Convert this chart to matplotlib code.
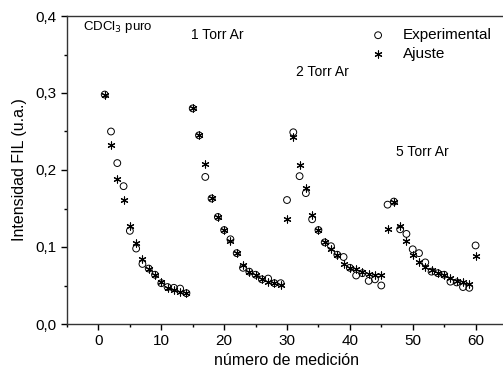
import matplotlib
matplotlib.use("Agg")
import matplotlib.pyplot as plt
from matplotlib.ticker import MultipleLocator, FuncFormatter

plt.rcParams['font.family'] = ['Liberation Sans', 'DejaVu Sans']

medicion = list(range(1, 61))
experimental = [
    0.298, 0.250, 0.209, 0.179, 0.121, 0.098, 0.078, 0.072, 0.064, 0.053,
    0.048, 0.047, 0.046, 0.040,
    0.280, 0.245, 0.191, 0.163, 0.139, 0.122, 0.110, 0.092, 0.073, 0.068,
    0.064, 0.058, 0.059, 0.053, 0.053,
    0.161, 0.249, 0.192, 0.170, 0.136, 0.122, 0.106, 0.101, 0.090, 0.087,
    0.073, 0.063, 0.066, 0.056, 0.058, 0.050,
    0.155, 0.159, 0.123, 0.117, 0.097, 0.092, 0.080, 0.068, 0.066, 0.064,
    0.055, 0.054, 0.048, 0.047, 0.102,
]
ajuste = [
    0.298, 0.232, 0.188, 0.161, 0.127, 0.105, 0.085, 0.072, 0.064, 0.055,
    0.047, 0.044, 0.042, 0.040,
    0.280, 0.245, 0.208, 0.163, 0.139, 0.122, 0.108, 0.092, 0.077, 0.068,
    0.064, 0.058, 0.055, 0.053, 0.051,
    0.136, 0.243, 0.206, 0.176, 0.142, 0.122, 0.106, 0.098, 0.090, 0.078,
    0.073, 0.071, 0.067, 0.065, 0.063, 0.063,
    0.123, 0.159, 0.127, 0.108, 0.089, 0.080, 0.074, 0.070, 0.066, 0.064,
    0.060, 0.056, 0.054, 0.052, 0.088,
]
etiquetas = [("CDCl$_3$ puro", -2.5, 0.382, 9.5), ("1 Torr Ar", 14.7, 0.370, 10),
             ("2 Torr Ar", 31.4, 0.322, 10), ("5 Torr Ar", 47.4, 0.218, 10)]

fig = plt.figure(figsize=(5.03, 3.75), dpi=100)
ax = fig.add_axes([67/503, 51/375, 440/503, 308/375])

ax.scatter(medicion, experimental, s=24, facecolors='none', edgecolors='black',
           linewidths=0.7, label='Experimental', zorder=3)
ax.scatter(medicion, ajuste, s=26, marker=(6, 2, 0), color='black',
           linewidths=0.8, label='Ajuste', zorder=4)

ax.set_xlim(-5, 65)
ax.set_ylim(0, 0.4)
ax.xaxis.set_major_locator(MultipleLocator(10))
ax.xaxis.set_minor_locator(MultipleLocator(5))
ax.yaxis.set_major_locator(MultipleLocator(0.1))
ax.yaxis.set_minor_locator(MultipleLocator(0.05))
ax.yaxis.set_major_formatter(FuncFormatter(lambda v, p: f"{v:.1f}".replace('.', ',')))
ax.tick_params(axis='both', which='major', direction='out', length=4, width=1,
               labelsize=11, colors='black')
ax.tick_params(axis='both', which='minor', direction='out', length=2.5, width=1)
for s in ax.spines.values():
    s.set_color('#333333')
    s.set_linewidth(1)

ax.set_xlabel('número de medición', fontsize=11.5, labelpad=3)
ax.set_ylabel('Intensidad FIL (u.a.)', fontsize=11.5, labelpad=6)

for txt, x, y, fs in etiquetas:
    ax.text(x, y, txt, fontsize=fs, va='baseline', ha='left')

ax.legend(loc='upper left', bbox_to_anchor=(0.648, 0.995), frameon=False,
          fontsize=11, handletextpad=0.6, labelspacing=0.3, borderpad=0.2)

fig.savefig('out.png', dpi=100)
